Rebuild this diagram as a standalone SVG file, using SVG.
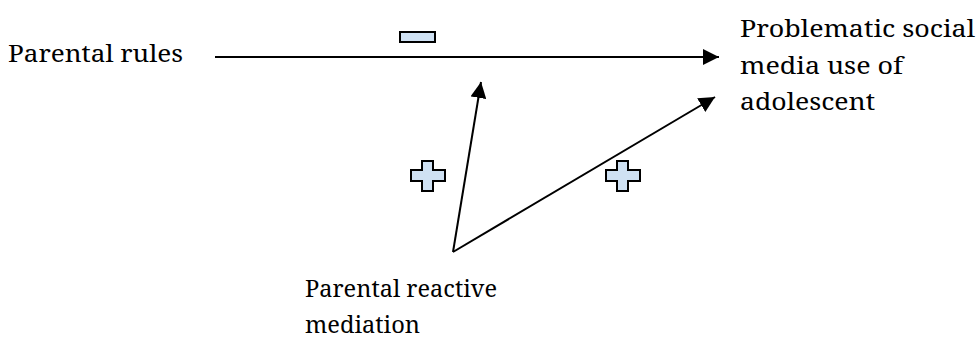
<svg xmlns="http://www.w3.org/2000/svg" width="978" height="341" viewBox="0 0 978 341">
  <style>
    text { font-family: 'Noto Serif', 'DejaVu Serif', serif; font-size: 24px; fill: #000; }
    .link { stroke: #000; stroke-width: 2; fill: none; }
    .sign { fill: #cfe1f3; stroke: #000; stroke-width: 2; }
  </style>
  <defs>
    <marker id="head" markerUnits="userSpaceOnUse" markerWidth="16" markerHeight="16" refX="16" refY="8" orient="auto" viewBox="0 0 16 16">
      <path d="M0,0 L16,8 L0,16 Z" fill="#000"/>
    </marker>
  </defs>
  <rect width="978" height="341" fill="#fff"/>

  <g id="parental-rules">
    <text x="8" y="62" textLength="175" lengthAdjust="spacingAndGlyphs">Parental rules</text>
  </g>

  <g id="problematic-use">
    <text x="740" y="37" textLength="235" lengthAdjust="spacingAndGlyphs">Problematic social</text>
    <text x="740" y="74" textLength="163" lengthAdjust="spacingAndGlyphs">media use of</text>
    <text x="740" y="110" textLength="135" lengthAdjust="spacingAndGlyphs">adolescent</text>
  </g>

  <g id="reactive-mediation">
    <text x="305" y="297" textLength="192" lengthAdjust="spacingAndGlyphs">Parental reactive</text>
    <text x="305" y="333" textLength="115" lengthAdjust="spacingAndGlyphs">mediation</text>
  </g>

  <g id="connectors">
    <line class="link" x1="215" y1="57" x2="719" y2="57" marker-end="url(#head)"/>
    <line class="link" x1="453" y1="252" x2="481" y2="82" marker-end="url(#head)"/>
    <line class="link" x1="453" y1="252" x2="715" y2="97" marker-end="url(#head)"/>
  </g>

  <g id="signs">
    <rect class="sign" x="400" y="32" width="35" height="10"/>
    <path class="sign" d="M422,161 H433 V170 H445 V181 H433 V191 H422 V181 H411 V170 H422 Z"/>
    <path class="sign" d="M617,161 H628 V170 H640 V181 H628 V191 H617 V181 H606 V170 H617 Z"/>
  </g>
</svg>
